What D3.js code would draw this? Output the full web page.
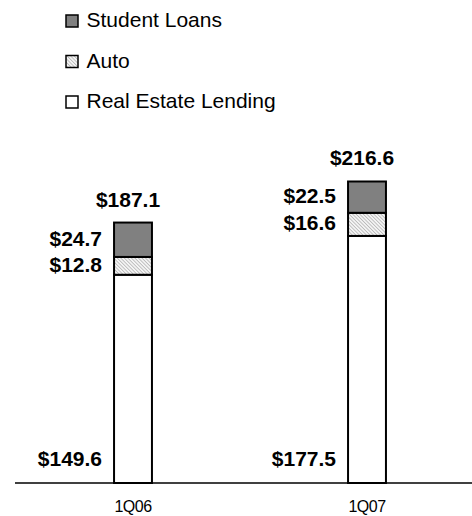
<!DOCTYPE html>
<html>
<head>
<meta charset="utf-8">
<script src="https://cdn.jsdelivr.net/npm/d3@7"></script>
<style>
  body { margin: 0; background: #fff; }
  svg { display: block; font-family: Arial, "Liberation Sans", sans-serif; }
</style>
</head>
<body>
<div id="chart"></div>
<script>
const categories = ['1Q06', '1Q07'];
const seriesNames = ['Real Estate Lending', 'Auto', 'Student Loans'];
const realEstate = [149.6, 177.5];
const auto = [12.8, 16.6];
const studentLoans = [24.7, 22.5];
const totals = ['$187.1', '$216.6'];
const legendOrder = ['Student Loans', 'Auto', 'Real Estate Lending'];

const width = 472;
const height = 516;

const svg = d3.select('#chart')
    .append('svg')
    .attr('width', width)
    .attr('height', height);

// fine hatch pattern for Auto
const defs = svg.append('defs');
const pat = defs.append('pattern')
    .attr('id', 'hatch')
    .attr('patternUnits', 'userSpaceOnUse')
    .attr('width', 2.5)
    .attr('height', 2.5)
    .attr('patternTransform', 'rotate(-45)');
pat.append('rect').attr('width', 2.5).attr('height', 2.5).attr('fill', '#f4f4f4');
pat.append('line')
    .attr('x1', 0).attr('y1', 0).attr('x2', 0).attr('y2', 2.5)
    .attr('stroke', '#9a9a9a')
    .attr('stroke-width', 1.1);

const fills = {
    'Real Estate Lending': '#ffffff',
    'Auto': 'url(#hatch)',
    'Student Loans': '#808080'
};

const rows = categories.map((c, i) => ({
    cat: c,
    'Real Estate Lending': realEstate[i],
    'Auto': auto[i],
    'Student Loans': studentLoans[i]
}));

const stack = d3.stack().keys(seriesNames);
const layers = stack(rows);

const x = d3.scaleBand()
    .domain(categories)
    .range([16, 484])
    .paddingInner(0.838)
    .paddingOuter(0.419);

const y = d3.scaleLinear()
    .domain([0, 250])
    .range([483, 135]);

// bars
svg.append('g')
    .selectAll('g')
    .data(layers)
    .join('g')
    .attr('fill', d => fills[d.key])
    .selectAll('rect')
    .data(d => d)
    .join('rect')
    .attr('x', d => x(d.data.cat))
    .attr('y', d => y(d[1]))
    .attr('width', x.bandwidth())
    .attr('height', d => y(d[0]) - y(d[1]))
    .attr('stroke', '#000')
    .attr('stroke-width', 2);

// axis line
svg.append('line')
    .attr('x1', 15).attr('x2', width)
    .attr('y1', y(0)).attr('y2', y(0))
    .attr('stroke', '#000')
    .attr('stroke-width', 1.5);

// category labels
svg.append('g')
    .selectAll('text')
    .data(categories)
    .join('text')
    .attr('x', d => x(d) + x.bandwidth() / 2)
    .attr('y', 512)
    .attr('text-anchor', 'middle')
    .attr('font-size', 16)
    .attr('letter-spacing', -0.5)
    .attr('fill', '#000')
    .text(d => d);

// segment labels
const labelG = svg.append('g')
    .attr('font-size', 21)
    .attr('font-weight', 'bold')
    .attr('fill', '#000');

layers.forEach(layer => {
    labelG.selectAll(null)
        .data(layer)
        .join('text')
        .attr('x', d => x(d.data.cat) - 12)
        .attr('y', d => layer.key === 'Real Estate Lending'
            ? y(0) - 17
            : (y(d[0]) + y(d[1])) / 2 + 6)
        .attr('text-anchor', 'end')
        .text(d => '$' + (d[1] - d[0]).toFixed(1));
});

// totals
labelG.selectAll(null)
    .data(categories)
    .join('text')
    .attr('x', (d, i) => x(d) + x.bandwidth() / 2 - 5)
    .attr('y', (d, i) => y(realEstate[i] + auto[i] + studentLoans[i]) - 16)
    .attr('text-anchor', 'middle')
    .text((d, i) => totals[i]);

// legend
const legend = svg.append('g')
    .selectAll('g')
    .data(legendOrder)
    .join('g')
    .attr('transform', (d, i) => `translate(66, ${15 + i * 40.5})`);

legend.append('rect')
    .attr('width', 12)
    .attr('height', 12)
    .attr('fill', d => fills[d])
    .attr('stroke', '#000')
    .attr('stroke-width', 1.5);

legend.append('text')
    .attr('x', 20.5)
    .attr('y', 12.3)
    .attr('font-size', 21)
    .attr('fill', '#000')
    .text(d => d);
</script>
</body>
</html>
